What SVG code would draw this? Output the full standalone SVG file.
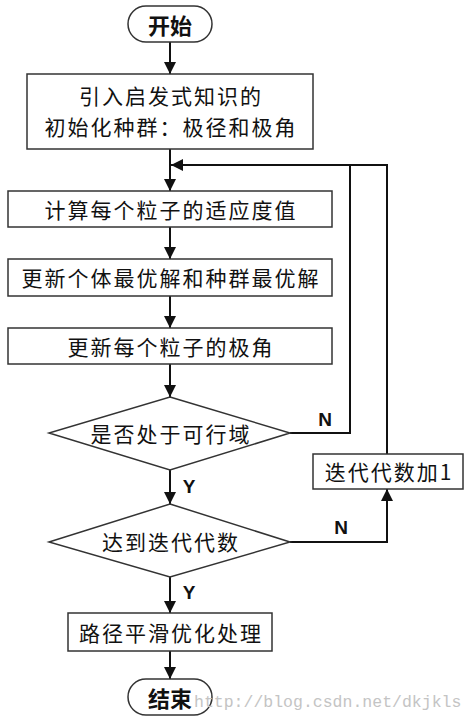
<svg xmlns="http://www.w3.org/2000/svg" width="473" height="721" viewBox="0 0 473 721">
<style>
.box{fill:#fff;stroke:#333;stroke-width:1.5}
.t{font-family:"Noto Sans CJK SC","Noto Sans",sans-serif;font-size:21px;letter-spacing:2px;fill:#111;text-anchor:middle;dominant-baseline:central}
.tb{font-family:"Noto Sans CJK SC","Noto Sans",sans-serif;font-size:22px;font-weight:bold;fill:#111;text-anchor:middle;dominant-baseline:central}
.lbl{font-family:"Liberation Sans",Arial,sans-serif;font-size:19px;font-weight:bold;fill:#111;text-anchor:middle;dominant-baseline:central}
.c{fill:none;stroke:#111;stroke-width:2}
.wm{font-family:"Liberation Mono",monospace;font-size:16.5px;fill:#c4c4c4}
</style>
<defs>
<marker id="ah" viewBox="0 0 12 12" refX="12" refY="6" markerWidth="12" markerHeight="12" markerUnits="userSpaceOnUse" orient="auto">
<path d="M0,0 L12,6 L0,12 Z" fill="#111"/>
</marker>
</defs>
<rect width="473" height="721" fill="#fff"/>
<g id="connectors">
<path class="c" d="M170,42 V74" marker-end="url(#ah)"/>
<path class="c" d="M170,149 V191" marker-end="url(#ah)"/>
<path class="c" d="M170,227 V259" marker-end="url(#ah)"/>
<path class="c" d="M170,296 V328" marker-end="url(#ah)"/>
<path class="c" d="M170,364 V397" marker-end="url(#ah)"/>
<path class="c" d="M170,470 V504" marker-end="url(#ah)"/>
<path class="c" d="M170,577 V613" marker-end="url(#ah)"/>
<path class="c" d="M170,651 V679" marker-end="url(#ah)"/>
<path class="c" d="M290,433 H350 V165"/>
<path class="c" d="M290,542 H387 V489" marker-end="url(#ah)"/>
<path class="c" d="M387,454 V165 H171" marker-end="url(#ah)"/>
<text class="lbl" x="325" y="419">N</text>
<text class="lbl" x="341" y="527">N</text>
<text class="lbl" x="189" y="486">Y</text>
<text class="lbl" x="189" y="592">Y</text>
</g>
<g id="start">
<rect class="box" x="128" y="6" width="84" height="36" rx="18"/>
<text class="tb" x="170" y="24">开始</text>
</g>
<g id="init">
<rect class="box" x="27" y="74" width="286" height="75"/>
<text class="t" x="171" y="95">引入启发式知识的</text>
<text class="t" x="171" y="126">初始化种群：极径和极角</text>
</g>
<g id="fitness">
<rect class="box" x="8" y="191" width="324" height="36"/>
<text class="t" x="171" y="209">计算每个粒子的适应度值</text>
</g>
<g id="update-best">
<rect class="box" x="8" y="259" width="324" height="37"/>
<text class="t" x="171" y="277">更新个体最优解和种群最优解</text>
</g>
<g id="update-angle">
<rect class="box" x="8" y="328" width="324" height="36"/>
<text class="t" x="171" y="346">更新每个粒子的极角</text>
</g>
<g id="feasible">
<polygon class="box" points="170,397 290,433 170,470 49,433"/>
<text class="t" x="171" y="433">是否处于可行域</text>
</g>
<g id="iter-reached">
<polygon class="box" points="170,504 290,542 170,577 49,542"/>
<text class="t" x="171" y="541">达到迭代代数</text>
</g>
<g id="iter-inc">
<rect class="box" x="313" y="454" width="150" height="35"/>
<text class="t" x="389" y="471">迭代代数加1</text>
</g>
<g id="smooth">
<rect class="box" x="68" y="613" width="204" height="38"/>
<text class="t" x="171" y="632">路径平滑优化处理</text>
</g>
<g id="end">
<rect class="box" x="128" y="679" width="84" height="36" rx="18"/>
<text class="tb" x="170" y="697">结束</text>
</g>
<text class="wm" x="194" y="707">http://blog.csdn.net/dkjkls</text>
</svg>
